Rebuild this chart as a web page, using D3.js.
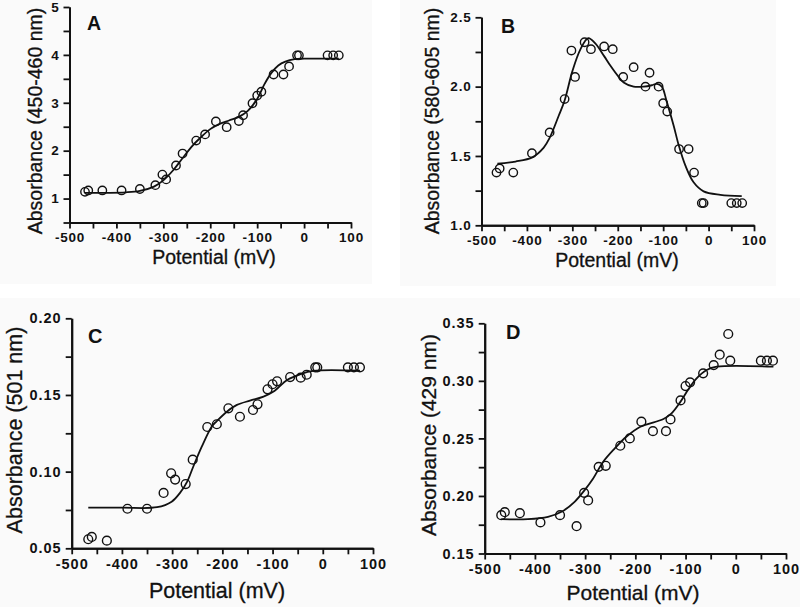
<!DOCTYPE html>
<html><head><meta charset="utf-8">
<script src="https://cdn.jsdelivr.net/npm/d3@7"></script>
<style>
html,body{margin:0;padding:0;background:#ffffff;}
svg text{font-family:Arial,"Liberation Sans",sans-serif;fill:#111;}
</style></head>
<body>
<svg id="c" width="800" height="607"></svg>
<script>
// ---------- data ----------
const xTicks = [-500,-400,-300,-200,-100,0,100];
const xMinor = [-450,-350,-250,-150,-50,50];

const potential = [-467,-460,-430,-389,-350,-317,-302,-294,-273,-259,-230,-211,-188,-165,-139,-130,-110,-100,-91,-65,-44,-32,-15,-11,50,62,74];

const absA = [1.14,1.17,1.17,1.17,1.20,1.28,1.50,1.40,1.69,1.94,2.21,2.34,2.61,2.49,2.62,2.74,2.99,3.15,3.23,3.59,3.59,3.76,3.99,3.99,3.99,3.99,3.99];
const absB = [1.38,1.41,1.38,1.52,1.67,1.91,2.26,2.07,2.32,2.27,2.29,2.27,2.07,2.14,2.00,2.10,2.00,1.88,1.82,1.55,1.55,1.38,1.16,1.16,1.16,1.16,1.16];
const absC = [0.0559,0.0574,0.0550,0.0758,0.0758,0.0861,0.0989,0.0948,0.0919,0.1078,0.1291,0.1309,0.1413,0.1358,0.1402,0.1439,0.1537,0.1570,0.1589,0.1617,0.1613,0.1632,0.168,0.168,0.168,0.168,0.168];
const absD = [0.1833,0.1859,0.1850,0.1770,0.1833,0.1737,0.2027,0.1961,0.2253,0.2262,0.2436,0.2500,0.2645,0.2563,0.2563,0.2665,0.2830,0.2955,0.2987,0.3065,0.3137,0.3227,0.3407,0.3175,0.3175,0.3175,0.3175];

const fitAx = [-467,-420,-380,-350,-320,-300,-280,-260,-240,-220,-200,-180,-160,-140,-120,-100,-85,-70,-55,-40,-20,0,74];
const fitAy = [1.12,1.12,1.13,1.16,1.25,1.38,1.58,1.83,2.08,2.28,2.45,2.56,2.63,2.70,2.83,3.08,3.38,3.62,3.78,3.86,3.91,3.92,3.92];
const fitBx = [-465,-425,-388,-363,-350,-330,-317,-300,-282,-265,-249,-230,-216,-198,-187,-165,-143,-125,-114,-103,-92,-77,-66,-51,-33,-11,26,73];
const fitBy = [1.445,1.46,1.49,1.56,1.63,1.79,1.90,2.11,2.27,2.35,2.31,2.22,2.15,2.07,2.03,2.00,2.00,2.01,2.02,2.00,1.89,1.72,1.58,1.43,1.31,1.245,1.22,1.21];
const fitCx = [-467,-400,-330,-301,-284,-270,-258,-241,-221,-211,-191,-171,-145,-118,-98,-71,-45,-19,74];
const fitCy = [0.0765,0.0765,0.0768,0.0804,0.0863,0.0935,0.1032,0.1163,0.1295,0.1330,0.1391,0.1435,0.1463,0.1489,0.1522,0.1598,0.1635,0.1657,0.1658];
const fitDx = [-467,-414,-374,-347,-321,-301,-284,-264,-241,-218,-190,-144,-128,-111,-94,-78,-58,-38,75];
const fitDy = [0.1798,0.1798,0.1818,0.1862,0.1949,0.2051,0.2152,0.2297,0.2413,0.2514,0.2601,0.2668,0.2717,0.2813,0.2929,0.3022,0.3094,0.3123,0.3123];

const yTicksA = [1,2,3,4,5],            yMinorA = [0.5,1.5,2.5,3.5,4.5];
const yTicksB = [1.0,1.5,2.0,2.5],      yMinorB = [1.25,1.75,2.25];
const yTicksC = [0.05,0.10,0.15,0.20],  yMinorC = [0.075,0.125,0.175];
const yTicksD = [0.15,0.20,0.25,0.30,0.35], yMinorD = [0.175,0.225,0.275,0.325];

const xTitle = "Potential (mV)";
const yTitles = ["Absorbance (450-460 nm)","Absorbance (580-605 nm)","Absorbance (501 nm)","Absorbance (429 nm)"];
const letters = ["A","B","C","D"];

// ---------- layout ----------
const panels = [
  {x0:69.5, x1:351, yT:7,     yB:222.5, dom:[0.5,5],    ys:absA, fx:fitAx, fy:fitAy, yt:yTicksA, ym:yMinorA, dec:0,
   ytx:35, yty:121, xtx:214, xty:264, lx:87, ly:30, fs:13.5, ls:0.8, tf:19.5, lf:19.5, r:4.2},
  {x0:481.5, x1:754, yT:17.3, yB:225.3, dom:[1.0,2.5],  ys:absB, fx:fitBx, fy:fitBy, yt:yTicksB, ym:yMinorB, dec:1,
   ytx:432, yty:121, xtx:617, xty:267, lx:501, ly:33, fs:13.5, ls:0.8, tf:19.5, lf:19.5, r:4.2},
  {x0:71.7, x1:373, yT:318.3, yB:548.3, dom:[0.05,0.20], ys:absC, fx:fitCx, fy:fitCy, yt:yTicksC, ym:yMinorC, dec:2,
   ytx:15, yty:430, xtx:217, xty:598, lx:88, ly:343, fs:14.5, ls:1, tf:21.5, lf:20, r:4.4},
  {x0:484.7, x1:786, yT:323.3, yB:553.5, dom:[0.15,0.35], ys:absD, fx:fitDx, fy:fitDy, yt:yTicksD, ym:yMinorD, dec:2,
   ytx:428, yty:435, xtx:633, xty:600, lx:506, ly:339, fs:14.5, ls:1, tf:21, lf:20, r:4.4}
];

const svg = d3.select("#c");
// faint panel backgrounds
[[0,0,372,284],[400,0,376,286],[0,298,400,309],[400,298,400,309]].forEach(b=>{
  svg.append("rect").attr("x",b[0]).attr("y",b[1]).attr("width",b[2]).attr("height",b[3]).attr("fill","#fafafa");
});

panels.forEach((p,i)=>{
  const g = svg.append("g");
  const x = d3.scaleLinear().domain([-500,100]).range([p.x0,p.x1]);
  const y = d3.scaleLinear().domain(p.dom).range([p.yB,p.yT]);

  // minor ticks
  const xm = g.append("g").attr("transform",`translate(0,${p.yB})`)
    .call(d3.axisBottom(x).tickValues(xMinor).tickSize(6).tickSizeOuter(0).tickFormat(""));
  const ymn = g.append("g").attr("transform",`translate(${p.x0},0)`)
    .call(d3.axisLeft(y).tickValues(p.ym).tickSize(6).tickSizeOuter(0).tickFormat(""));
  // major axes
  const xa = g.append("g").attr("transform",`translate(0,${p.yB})`)
    .call(d3.axisBottom(x).tickValues(xTicks).tickSize(6).tickSizeOuter(0).tickPadding(4)
      .tickFormat(d=>String(d)));
  const ya = g.append("g").attr("transform",`translate(${p.x0},0)`)
    .call(d3.axisLeft(y).tickValues(p.yt).tickSize(6).tickSizeOuter(0).tickPadding(4)
      .tickFormat(d=>d.toFixed(p.dec)));
  [xm,ymn,xa,ya].forEach(a=>{
    a.selectAll("path.domain").attr("stroke","#111").attr("stroke-width",2);
    a.selectAll(".tick line").attr("stroke","#111").attr("stroke-width",1.8);
    a.selectAll(".tick text").attr("font-size",p.fs).attr("font-weight","bold")
      .attr("letter-spacing",p.ls+"px").attr("fill","#111")
      .style("font-family","Arial, 'Liberation Sans', sans-serif");
  });

  // fit curve
  const fit = p.fx.map((v,k)=>[v,p.fy[k]]);
  g.append("path").datum(fit)
    .attr("fill","none").attr("stroke","#111").attr("stroke-width",1.8)
    .attr("d", d3.line().x(d=>x(d[0])).y(d=>y(d[1])).curve(d3.curveCatmullRom.alpha(0.5)));

  // data points
  g.selectAll("circle.pt").data(potential.map((v,k)=>[v,p.ys[k]])).enter()
    .append("circle").attr("class","pt")
    .attr("cx",d=>x(d[0])).attr("cy",d=>y(d[1])).attr("r",p.r)
    .attr("fill","none").attr("stroke","#111").attr("stroke-width",1.4);

  // titles
  g.append("text").attr("x",p.xtx).attr("y",p.xty).attr("text-anchor","middle")
    .attr("font-size",p.tf).attr("stroke","#111").attr("stroke-width",0.3).text(xTitle);
  g.append("text").attr("transform",`translate(${p.ytx},${p.yty}) rotate(-90)`)
    .attr("text-anchor","middle").attr("dominant-baseline","central")
    .attr("font-size",p.tf).attr("stroke","#111").attr("stroke-width",0.3).text(yTitles[i]);
  g.append("text").attr("x",p.lx).attr("y",p.ly).attr("font-size",p.lf).attr("font-weight","bold")
    .text(letters[i]);
});
</script>
</body></html>
